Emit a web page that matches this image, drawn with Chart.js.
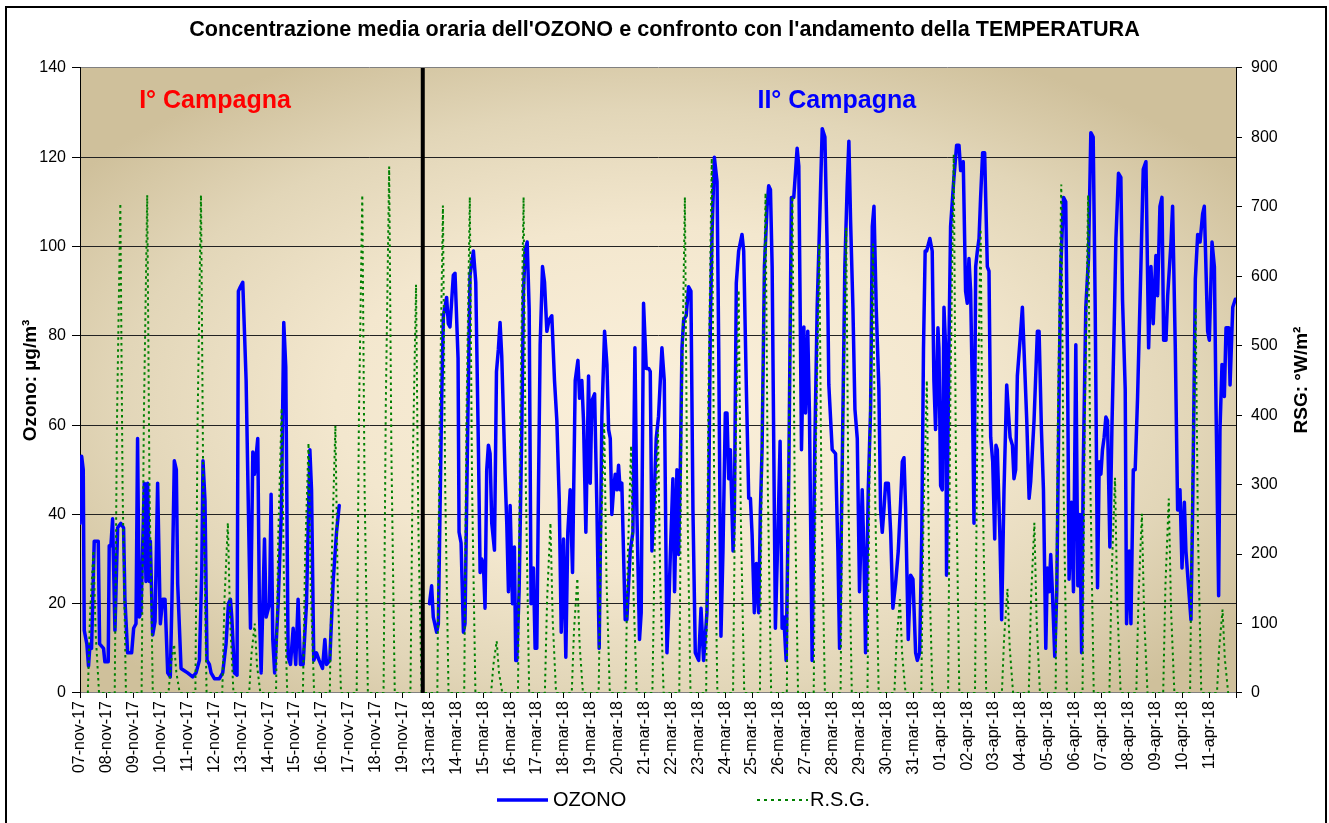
<!DOCTYPE html>
<html>
<head>
<meta charset="utf-8">
<title>Ozono e R.S.G.</title>
<script src="https://cdn.jsdelivr.net/npm/chart.js@4.4.1/dist/chart.umd.min.js"></script>
<style>
  html, body { margin: 0; padding: 0; background: #ffffff; }
  #wrap { position: relative; width: 1329px; height: 823px; }
</style>
</head>
<body>
<div id="wrap"><canvas id="ozoneChart" width="1329" height="823"></canvas></div>
<script>
const chartTitle = "Concentrazione media oraria dell'OZONO e confronto con l'andamento della TEMPERATURA";

const dayLabels = [
    '07-nov-17', '08-nov-17', '09-nov-17', '10-nov-17', '11-nov-17', '12-nov-17', '13-nov-17',
    '14-nov-17', '15-nov-17', '16-nov-17', '17-nov-17', '18-nov-17', '19-nov-17',
    '13-mar-18', '14-mar-18', '15-mar-18', '16-mar-18', '17-mar-18', '18-mar-18', '19-mar-18',
    '20-mar-18', '21-mar-18', '22-mar-18', '23-mar-18', '24-mar-18', '25-mar-18', '26-mar-18',
    '27-mar-18', '28-mar-18', '29-mar-18', '30-mar-18', '31-mar-18',
    '01-apr-18', '02-apr-18', '03-apr-18', '04-apr-18', '05-apr-18', '06-apr-18', '07-apr-18',
    '08-apr-18', '09-apr-18', '10-apr-18', '11-apr-18'
];

const campaignNames = ['I° Campagna', 'II° Campagna'];
const seriesNames = ['OZONO', 'R.S.G.'];

// ozone, [hour counted along the axis from 07-nov-17 00:00, µg/m³]
const ozoneNov = [
    [0,38],[1.5,53],[2.9,50],[3.8,14],[6.1,11],[7.6,6],[8.8,10.5],[10.3,10],[12.7,34],[16.3,34],
    [17.5,11],[21,10],[22.2,7],[25.2,7],[26.1,33],[27.6,33],[29.1,39],[31.2,14],[33.6,37],[36.5,38],
    [38.9,37],[40.1,21],[42.5,9],[46.1,9],[47.9,14.5],[50,15.5],[51.4,57],[52.9,17],[54.4,18],[57.4,47],
    [58.9,25],[60.4,47],[61.9,25],[62.8,34],[64.9,13],[67,16],[69.3,47],[71.7,15.5],[73.8,21],[75.9,21],
    [78.3,4.5],[80.6,3.6],[82.1,21],[84.2,52],[86,50],[87.2,24.5],[90.2,5.5],[93.2,5],[96.1,4.5],[100.6,3.6],
    [103.6,4.5],[106.6,7.3],[108.7,27],[109.8,52],[111.6,43],[113.4,7.3],[115.5,6.4],[117,4.5],[120,3.2],[124.4,3.2],
    [127.4,4.5],[130.4,11],[132.5,20],[134.3,21],[135.5,17],[137.9,4.5],[140.2,4],[141.4,90],[143.2,91],[145.3,92],
    [148.3,70],[152.2,14.5],[154.3,54],[155.7,49],[158.7,57],[160.2,18],[161.7,4.5],[164.7,34.5],[166.2,17],[169.2,20],
    [170.6,44.5],[172.1,12],[173.8,4.5],[176.9,20],[179.8,41],[181.9,83],[183.7,73],[185.8,8],[187.9,6.4],[190.3,14.5],
    [192.6,6.4],[194.7,21],[196.8,6.4],[199.2,6.4],[202.2,20],[205.2,54.5],[206.7,45.5],[208.7,7.3],[211.1,9],[213.5,7.3],
    [216.5,5.5],[218.6,12],[220.1,6.4],[223,7.3],[226,25],[229,36],[231.4,42]
];

const ozoneSpring = [
    [312,20],[313.9,24],[315.4,17],[318.4,13.6],[319.9,15.5],[322.9,66],[324.4,84.5],[327.3,88.6],[328.8,82.7],[330.3,82],
    [333.3,93.6],[334.8,94],[337.5,75],[338.4,36],[340.2,33.6],[342.3,13.6],[343.7,15.5],[346.1,59],[348.2,93.6],[351.2,99],
    [353.3,92],[355.7,54.5],[357.2,27],[358.6,30],[360.1,29],[361.6,19],[363.1,50],[364.6,55.5],[366.1,53.6],[367.6,38],
    [370,32],[371.8,72],[373.5,77],[375,83],[376.5,75.5],[379.5,49],[381,38],[382.5,22.7],[384,42],[386.1,20],
    [387.8,32.7],[389,7.3],[389.9,7.3],[392,22.7],[394.4,59],[395.9,90],[397.4,99],[399.2,101],[401,86],[402.7,20],
    [404.8,28],[406.3,10],[407.8,10],[409.3,45.5],[410.8,78],[412.9,95.5],[414.7,92],[416.8,81],[418.8,83.6],[421.2,84.5],
    [423.6,70],[425.7,61],[427.8,43.6],[429.6,13.6],[431.7,34.5],[433.7,8],[435.5,36],[437.6,45.5],[439.7,27],[442.1,70],
    [444.5,74.5],[446,66],[448,70],[449.5,61],[451.6,36],[454,71],[455.5,47],[457,65.5],[459.4,67],[461.5,41],
    [463.5,10],[465.9,62],[468.3,81],[470.4,73.6],[471.9,59],[473.4,57],[474.8,40],[476.3,45.5],[477.8,49],[479.3,45.5],
    [480.8,51],[482.2,45.5],[483.7,47],[486.7,16.4],[488.2,16.4],[491.2,31.8],[493.6,36],[495.4,77.3],[497.1,41],[499.5,12],
    [501,18],[503.1,87.3],[505.5,72.7],[507.6,72.7],[509.1,72],[510.6,31.8],[512.6,43.6],[514.4,57],[516.5,62],[519.5,77.3],
    [521.6,70],[524,9],[525.5,18],[527,31],[529.3,48],[530.8,22.7],[532.9,50],[534.4,31],[535.9,50],[537.4,77.3],
    [538.9,83.6],[541.2,84.5],[543.3,91],[545.4,90],[547.2,41],[549.3,9],[552.3,7.3],[554.4,19],[556.7,7.3],[559.7,18],
    [561.2,41],[562.7,82],[564.2,102.7],[566.3,120],[568.7,114.5],[570.2,77.3],[572.2,12.7],[574,31.8],[576.1,62.7],[577.6,62.7],
    [579.1,48],[580.6,54.5],[583,31.8],[584.2,41],[585.9,91.8],[588,99],[591,102.7],[592.5,99],[594.9,68],[597,43.6],
    [598.5,43.6],[600,35.5],[602,18],[603.8,29],[605.9,18],[607.4,41],[608.9,54.5],[611,95.5],[613.4,109],[614.8,113.6],
    [616.4,112.7],[617.9,95.5],[620.8,14.5],[623.2,37],[625,56.4],[626.8,14.5],[628.3,17],[630.4,7.3],[632.8,50],[635.1,111],
    [637.2,111],[640.2,122],[641.7,118],[644.1,54.5],[646.2,82],[647.7,62.7],[649.7,81],[651.2,62.7],[653.6,7.3],[656,55.5],
    [658.1,86.4],[660.2,104.5],[662.6,126.4],[665,124.5],[667,100],[668.5,69],[671.5,54.5],[674.5,53.6],[676.6,31.8],[678.1,10],
    [680.4,50],[682.8,95.5],[684.9,113.6],[686.4,123.6],[687.9,106],[690,86.4],[691.8,63.6],[693.9,57],[695.9,22.7],[698.3,45.5],
    [699.8,31.8],[701.3,9],[703.7,45.5],[705.8,63.6],[707.3,104.5],[708.8,109],[710.8,86.4],[713.2,68],[714.7,41],[716.2,36],
    [717.7,41],[719.2,47],[721.6,47],[723.7,36],[725.7,19],[728.1,24.5],[730.5,31.8],[732.6,42.7],[734.1,51.8],[735.6,52.7],
    [737.1,41],[739.4,12],[741.5,26.4],[743.6,25.5],[746,9],[747.5,7.3],[749.6,9],[751.5,36],[753,77],[754.5,99],
    [755.8,99],[758.7,101.8],[760.8,99],[762.3,70],[763.8,59],[765.9,81.8],[766.8,77.3],[768.3,46.4],[769.8,45.5],[771.3,86.4],
    [772.8,77.3],[773.6,26.4],[775.7,77.3],[777.2,104.5],[780.2,115.5],[782.6,122.7],[784.7,122.7],[786.2,117],[788.5,119],[790.6,90],
    [792.1,87.3],[793.6,97.3],[795.1,90],[796.6,68],[798.1,38],[799.6,95.5],[801.1,99],[802.6,101.8],[804,111],[805.8,121],
    [807.6,121],[810,95.5],[811.5,94.5],[813,57.3],[814.8,51.8],[816.6,34.5],[817.7,55.5],[818.9,54.5],[821.3,34.5],[822.8,16.4],
    [824.9,45.5],[827.3,69],[830.3,57.3],[832.4,55.5],[833.8,48],[835.3,50],[836.8,71],[839.2,79],[841.3,86.4],[843.4,72.7],
    [845.2,61],[847.3,43.6],[848.7,47.3],[851.7,61],[854.7,81],[856.2,81],[858.3,59],[860.1,45.5],[862.2,10],[863.6,28],
    [865.1,22.7],[866.6,31],[868.1,22.7],[870.2,8.2],[872,22.7],[874.1,68],[875.6,95.5],[878,111],[880,110],[881.5,77.3],
    [883,25.5],[885.1,42.7],[886.9,22.7],[889,78],[890.8,24],[892.6,40],[894.2,9],[895.6,50],[897.9,86.4],[900.3,97.3],
    [902.4,125.5],[904.5,124.5],[906.3,86.4],[908.4,23.6],[909.9,51.8],[911.4,49],[912.8,54.5],[914.3,57.3],[915.8,61.8],[917.3,61],
    [919.4,32.7],[921.2,59],[923.3,82.7],[924.8,101.8],[927.1,116.4],[929.2,115.5],[930.7,88],[933.1,68],[934.3,15.5],[936.7,31.8],
    [938.2,15.5],[940.3,50],[942,50],[944.1,66],[947.1,95.5],[949.2,117.3],[951.6,119],[954,77.3],[956.1,95.5],[958.1,82.7],
    [960.5,98],[962,89],[964.1,109],[965.9,111],[967.4,79],[969.5,79],[971,89],[974,101],[975.4,109],[977.8,77.3],
    [979.9,41],[982,45.5],[983.8,28],[985.9,42.7],[987.3,31.8],[991.8,16.4],[993.3,41],[995.7,92.7],[997.8,102.7],[999.9,101],
    [1002.2,107.3],[1003.7,109],[1006.7,81],[1008.2,79],[1010.6,101],[1012.7,95.5],[1014.2,63.6],[1016.5,21.8],[1017.7,59],[1019.5,73.6],
    [1021.6,66.4],[1023.1,81.8],[1025.5,81.8],[1026.7,69],[1029.1,86.4],[1031.4,88.2]
];

// solar radiation, W/m² at these hours of each day
const rsgHours = [7, 9, 12, 14, 17];
const rsgNov = [
    [0,115,205,85,0], [0,390,705,295,0], [0,395,717,300,0], [0,40,70,30,0], [0,395,717,300,0],
    [0,135,245,105,0], [0,55,100,40,0], [0,225,410,170,0], [0,200,360,150,0], [0,210,385,160,0],
    [0,395,717,300,0], [0,415,758,345,0], [0,325,588,245,0]
];
const rsgSpring = [
    [0,385,702,300,0], [0,395,714,300,0], [0,40,75,30,0], [0,395,714,300,0], [0,135,245,105,0],
    [0,90,165,70,0], [0,215,390,165,0], [0,195,356,150,0], [0,210,379,160,0], [0,395,714,300,0],
    [0,425,770,325,0], [0,320,580,245,0], [0,395,720,300,0], [0,395,715,300,0], [0,355,647,270,0],
    [0,370,670,280,0], [0,355,647,270,0], [0,75,135,55,0], [0,250,450,190,0], [0,425,775,325,0],
    [0,365,668,280,0], [0,80,150,65,0], [0,135,245,105,0], [0,405,732,305,0], [0,395,717,300,0],
    [0,170,310,130,0], [0,140,258,110,0], [0,155,280,120,0], [0,305,555,235,0], [0,65,120,50,0]
];

const separatorDay = 12.75;  // black line between the two campaigns

const fontFamily = "'Liberation Sans', Arial, sans-serif";

const ozonePoints = [
    ...ozoneNov.map(([h, v]) => ({ x: h / 24, y: v })),
    { x: separatorDay, y: null },
    ...ozoneSpring.map(([h, v]) => ({ x: h / 24, y: v }))
];

const rsgPoints = [...rsgNov, ...rsgSpring].flatMap((vals, day) =>
    vals.map((v, i) => ({ x: day + rsgHours[i] / 24, y: v }))
);

// gradient fill of the plot area + outer frame
const backgroundPlugin = {
    id: 'plotBackground',
    beforeDraw(chart) {
        const { ctx, chartArea: a, width, height } = chart;
        ctx.save();
        ctx.fillStyle = '#ffffff';
        ctx.fillRect(0, 0, width, height);

        const w = a.right - a.left, h = a.bottom - a.top;
        const cx = a.left + w / 2, cy = a.top + h / 2 + 20;
        const rx = w * 0.62, ry = h * 0.62;
        ctx.beginPath();
        ctx.rect(a.left, a.top, w, h);
        ctx.clip();
        ctx.translate(cx, cy);
        ctx.scale(1, ry / rx);
        const g = ctx.createRadialGradient(0, 0, 0, 0, 0, rx);
        g.addColorStop(0, '#fbf0db');
        g.addColorStop(0.45, '#f3e7ce');
        g.addColorStop(0.75, '#e2d6b8');
        g.addColorStop(1, '#cfc09b');
        ctx.fillStyle = g;
        ctx.fillRect(-rx * 1.6, -rx * 1.6, rx * 3.2, rx * 3.2);
        ctx.restore();

        ctx.save();
        ctx.strokeStyle = '#000000';
        ctx.lineWidth = 2;
        ctx.strokeRect(6, 7, 1320, 830);
        ctx.restore();
    }
};

// campaign labels, right axis title and legend
const overlayPlugin = {
    id: 'overlay',
    afterDraw(chart) {
        const { ctx } = chart;
        const xs = chart.scales.x, ys = chart.scales.y;
        ctx.save();

        ctx.font = 'bold 25px ' + fontFamily;
        ctx.textBaseline = 'alphabetic';
        ctx.textAlign = 'left';
        ctx.fillStyle = '#ff0000';
        ctx.fillText(campaignNames[0], xs.getPixelForValue(2.2), ys.getPixelForValue(131));
        ctx.fillStyle = '#0000ff';
        ctx.fillText(campaignNames[1], xs.getPixelForValue(25.2), ys.getPixelForValue(131));

        ctx.save();
        ctx.translate(1302, 380);
        ctx.rotate(-Math.PI / 2);
        ctx.font = 'bold 19px ' + fontFamily;
        ctx.fillStyle = '#000000';
        ctx.textAlign = 'center';
        ctx.textBaseline = 'middle';
        ctx.fillText('RSG: °W/m²', 0, 0);
        ctx.restore();

        // legend
        const ly = 800;
        ctx.lineWidth = 3.5;
        ctx.strokeStyle = '#0000ff';
        ctx.beginPath();
        ctx.moveTo(497, ly);
        ctx.lineTo(548, ly);
        ctx.stroke();
        ctx.lineWidth = 2;
        ctx.strokeStyle = '#008000';
        ctx.setLineDash([3, 4]);
        ctx.beginPath();
        ctx.moveTo(757, ly);
        ctx.lineTo(808, ly);
        ctx.stroke();
        ctx.setLineDash([]);
        ctx.font = '20px ' + fontFamily;
        ctx.fillStyle = '#000000';
        ctx.textAlign = 'left';
        ctx.textBaseline = 'middle';
        ctx.fillText(seriesNames[0], 553, ly);
        ctx.fillText(seriesNames[1], 810, ly);
        ctx.restore();
    }
};

const ctx = document.getElementById('ozoneChart').getContext('2d');
const ozoneChart = new Chart(ctx, {
    type: 'line',
    data: {
        datasets: [
            {
                label: 'separator',
                data: [{ x: separatorDay, y: 0 }, { x: separatorDay, y: 140 }],
                borderColor: '#000000',
                borderWidth: 4,
                pointRadius: 0,
                yAxisID: 'y',
                order: 0
            },
            {
                label: seriesNames[1],
                data: rsgPoints,
                borderColor: '#008000',
                borderWidth: 2,
                borderDash: [2.5, 3.5],
                pointRadius: 0,
                tension: 0,
                yAxisID: 'y1',
                order: 1
            },
            {
                label: seriesNames[0],
                data: ozonePoints,
                borderColor: '#0000ff',
                borderWidth: 3.5,
                borderJoinStyle: 'round',
                borderCapStyle: 'round',
                pointRadius: 0,
                tension: 0,
                spanGaps: false,
                yAxisID: 'y',
                order: 2
            }
        ]
    },
    options: {
        responsive: false,
        animation: false,
        events: [],
        layout: { padding: 0 },
        plugins: {
            legend: { display: false },
            tooltip: { enabled: false },
            title: {
                display: true,
                text: chartTitle,
                color: '#000000',
                font: { family: fontFamily, size: 21.6, weight: 'bold' },
                padding: { top: 17, bottom: 25 }
            }
        },
        scales: {
            x: {
                type: 'linear',
                min: 0,
                max: dayLabels.length,
                afterFit: (scale) => { scale.height = 130; },
                ticks: {
                    stepSize: 1,
                    autoSkip: false,
                    minRotation: 90,
                    maxRotation: 90,
                    padding: 3,
                    color: '#000000',
                    font: { family: fontFamily, size: 16 },
                    callback: (value) => dayLabels[value] ?? ''
                },
                grid: { drawOnChartArea: false, drawTicks: true, tickLength: 5, tickColor: '#000000' },
                border: { color: '#808080', width: 1 }
            },
            y: {
                position: 'left',
                min: 0,
                max: 140,
                afterFit: (scale) => { scale.width = 80; },
                ticks: {
                    stepSize: 20,
                    padding: 6,
                    color: '#000000',
                    font: { family: fontFamily, size: 16 }
                },
                grid: {
                    color: (c) => (c.tick && (c.tick.value === 140 || c.tick.value === 0)) ? '#808080' : '#222222',
                    tickLength: 8,
                    tickColor: '#000000'
                },
                border: { color: '#000000', width: 1 },
                title: {
                    display: true,
                    text: 'Ozono: µg/m³',
                    color: '#000000',
                    font: { family: fontFamily, size: 19, weight: 'bold' },
                    padding: { top: 19, bottom: 0 }
                }
            },
            y1: {
                position: 'right',
                min: 0,
                max: 900,
                afterFit: (scale) => { scale.width = 93; },
                ticks: {
                    stepSize: 100,
                    padding: 9,
                    color: '#000000',
                    font: { family: fontFamily, size: 16 }
                },
                grid: { drawOnChartArea: false, tickLength: 6, tickColor: '#000000' },
                border: { color: '#000000', width: 1 }
            }
        }
    },
    plugins: [backgroundPlugin, overlayPlugin]
});
</script>
</body>
</html>
